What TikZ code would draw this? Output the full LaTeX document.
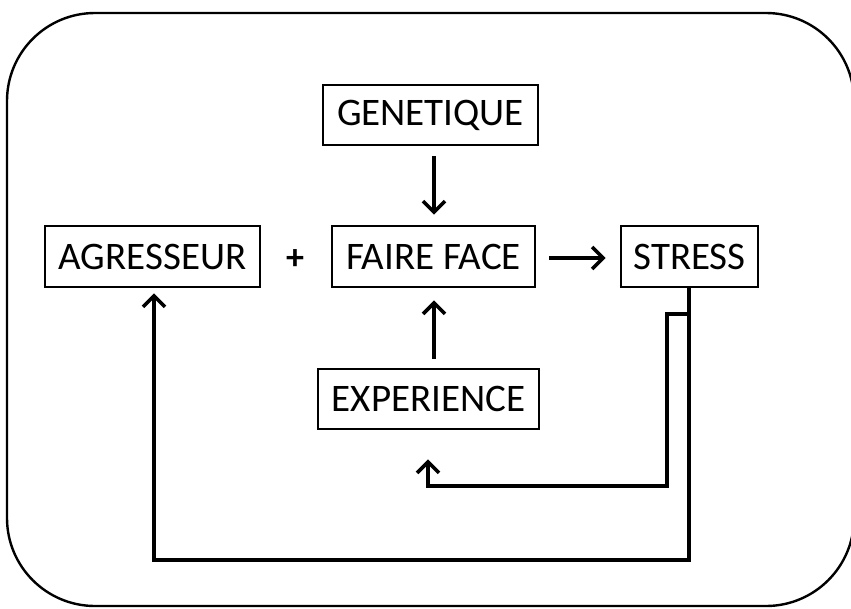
\documentclass[tikz,border=0pt]{standalone}
\usepackage{fontspec}
\setmainfont{Carlito}
\usetikzlibrary{arrows.meta}
\begin{document}
\begin{tikzpicture}[x=1pt,y=-1pt,
  box/.style={draw,line width=2.8pt,inner sep=0pt,font=\fontsize{39}{39}\selectfont,anchor=center},
  arr/.style={line width=3.8pt,line join=miter,-{Straight Barb[length=11pt,width=22pt,line width=3.6pt]}}]
\useasboundingbox (0,0) rectangle (851,608);
\draw[line width=2.4pt,rounded corners=88pt] (7,13) rectangle (854,606);
\node[box,minimum width=215pt,minimum height=60pt] (gen) at (430.5,115) {GENETIQUE};
\node[box,minimum width=203pt,minimum height=61pt] (ff) at (433.5,256.5) {FAIRE FACE};
\node[box,minimum width=221pt,minimum height=60pt] (exp) at (428.5,399) {EXPERIENCE};
\node[box,minimum width=215pt,minimum height=61pt] (agr) at (152.5,256.5) {AGRESSEUR};
\node[box,minimum width=137pt,minimum height=61pt] (str) at (689.5,256.5) {STRESS};
\node[font=\fontsize{36}{36}\selectfont\bfseries] (plus) at (295,260) {+};
\coordinate (j) at (689,314);
\coordinate (c1) at (667,314);
\coordinate (c2) at (667,486);
\coordinate (c3) at (428,486);
\coordinate (d1) at (689,560);
\coordinate (d2) at (154,560);
\draw[arr,shorten <=10pt,shorten >=10pt] ([xshift=3.5pt]gen.south) -- ([xshift=0.5pt]ff.north);
\draw[arr,shorten <=9pt,shorten >=12pt] ([xshift=5.5pt]exp.north) -- ([xshift=0.5pt]ff.south);
\draw[arr,shorten <=13pt,shorten >=14pt] ([yshift=-1.5pt]ff.east) -- ([yshift=-1.5pt]str.west);
\draw[arr] ([xshift=-0.5pt]str.south) -- (d1) -- (d2) -- ([xshift=1.5pt,yshift=-5pt]agr.south);
\draw[arr] (j) -- (c1) -- (c2) -- (c3) -- ([yshift=-29pt]exp.south -| c3);
\end{tikzpicture}
\end{document}
